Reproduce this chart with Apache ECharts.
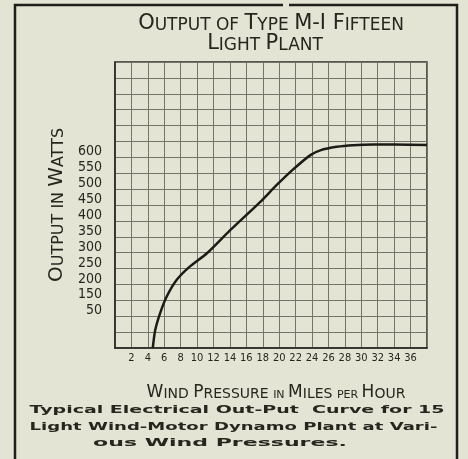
<!DOCTYPE html>
<html>
<head>
<meta charset="utf-8">
<script src="https://cdn.jsdelivr.net/npm/echarts@6/dist/echarts.min.js"></script>
<style>
html, body { margin: 0; padding: 0; background: #e3e4d3; }
#chart { width: 468px; height: 459px; }
</style>
</head>
<body>
<div id="chart"></div>
<script>
// curve: wind pressure (mph) vs output (watts)
var windSpeed = [4.6, 4.9, 5.5, 6.3, 7.5, 9.1, 11.2, 14, 17.7, 19.7, 21.7, 23.8, 25, 27, 29, 31.5, 34, 38]
var outputWatts = [0, 57, 110, 162, 214, 256, 298, 370, 460, 513, 562, 607, 622, 633, 638, 640, 640, 639]

// tick labels as printed (the plate labels the 100 line "50")
var xTickLabels = [2, 4, 6, 8, 10, 12, 14, 16, 18, 20, 22, 24, 26, 28, 30, 32, 34, 36]
var yTickValues = [100, 150, 200, 250, 300, 350, 400, 450, 500, 550, 600]
var yTickText = ['50', '150', '200', '250', '300', '350', '400', '450', '500', '550', '600']

var ink = '#26261f'
var wide = '"DejaVu Sans"'
var condensed = '"DejaVu Sans Condensed", "Liberation Sans Narrow", "DejaVu Sans"'
var captionFont = 'bold 19px "DejaVu Sans"'

var chart = echarts.init(document.getElementById('chart'))
var option = {
  backgroundColor: '#e3e4d3',
  animation: false,
  grid: {
    left: 115,
    top: 62,
    right: 41,
    bottom: 111,
    show: true,
    borderColor: '#2a2a24',
    borderWidth: 1.5
  },
  xAxis: {
    type: 'value',
    min: 0,
    max: 38,
    interval: 2,
    name: '{b|W}{s|IND }{b|P}{s|RESSURE }{t|IN }{b|M}{s|ILES }{t|PER }{b|H}{s|OUR}',
    nameLocation: 'middle',
    nameGap: 36,
    nameTextStyle: {
      padding: [0, 0, 0, 10],
      rich: {
        b: { fontFamily: wide, fontSize: 17, color: ink, verticalAlign: 'bottom' },
        s: { fontFamily: wide, fontSize: 14, color: ink, verticalAlign: 'bottom' },
        t: { fontFamily: wide, fontSize: 11, color: ink, verticalAlign: 'bottom' }
      }
    },
    axisLine: { show: true, lineStyle: { color: '#2a2a24', width: 1.5 } },
    axisTick: { show: false },
    axisLabel: {
      margin: 5,
      fontFamily: condensed,
      fontSize: 11,
      color: ink,
      formatter: function (v) {
        return xTickLabels.indexOf(v) >= 0 ? String(v) : ''
      }
    },
    splitLine: { show: true, lineStyle: { color: '#74746a', width: 1 } }
  },
  yAxis: {
    type: 'value',
    min: 0,
    max: 900,
    interval: 50,
    name: '{b|O}{s|UTPUT IN }{b|W}{s|ATTS}',
    nameLocation: 'middle',
    nameRotate: 90,
    nameGap: 44,
    nameTextStyle: {
      rich: {
        b: { fontFamily: wide, fontSize: 20, color: ink, verticalAlign: 'bottom' },
        s: { fontFamily: wide, fontSize: 16, color: ink, verticalAlign: 'bottom' }
      }
    },
    axisLine: { show: true, lineStyle: { color: '#2a2a24', width: 1.5 } },
    axisTick: { show: false },
    axisLabel: {
      margin: 13,
      fontFamily: condensed,
      fontSize: 14,
      lineHeight: 11,
      verticalAlign: 'bottom',
      color: ink,
      formatter: function (v) {
        var i = yTickValues.indexOf(v)
        return i >= 0 ? yTickText[i] : ''
      }
    },
    splitLine: { show: true, lineStyle: { color: '#74746a', width: 1 } }
  },
  series: [
    {
      type: 'line',
      data: windSpeed.map(function (x, i) { return [x, outputWatts[i]] }),
      smooth: 0.25,
      showSymbol: false,
      lineStyle: { color: '#1c1c17', width: 2.5 }
    }
  ],
  graphic: [
    // outer frame of the plate
    { type: 'polyline', shape: { points: [[15, 459], [15, 5], [283, 5]] }, style: { stroke: '#1e1e1a', lineWidth: 2.5, fill: null } },
    { type: 'polyline', shape: { points: [[289, 5], [457, 5], [457, 459]] }, style: { stroke: '#1e1e1a', lineWidth: 2.5, fill: null } },
    {
      type: 'text',
      x: 271,
      y: 24,
      style: {
        text: '{b|O}{s|UTPUT OF }{b|T}{s|YPE }{b|M-I F}{s|IFTEEN}',
        align: 'center',
        verticalAlign: 'middle',
        rich: {
          b: { fontFamily: wide, fontSize: 21, fill: ink, verticalAlign: 'bottom' },
          s: { fontFamily: wide, fontSize: 17, fill: ink, verticalAlign: 'bottom' }
        }
      }
    },
    {
      type: 'text',
      x: 265,
      y: 44,
      style: {
        text: '{b|L}{s|IGHT }{b|P}{s|LANT}',
        align: 'center',
        verticalAlign: 'middle',
        rich: {
          b: { fontFamily: wide, fontSize: 21, fill: ink, verticalAlign: 'bottom' },
          s: { fontFamily: wide, fontSize: 17, fill: ink, verticalAlign: 'bottom' }
        }
      }
    },
    {
      type: 'text', x: 237, y: 410, scaleY: 0.58,
      style: { text: 'Typical Electrical Out-Put  Curve for 15', font: captionFont, fill: ink, align: 'center', verticalAlign: 'middle' }
    },
    {
      type: 'text', x: 233.5, y: 427, scaleX: 0.95, scaleY: 0.58,
      style: { text: 'Light Wind-Motor Dynamo Plant at Vari-', font: captionFont, fill: ink, align: 'center', verticalAlign: 'middle' }
    },
    {
      type: 'text', x: 220, y: 443, scaleX: 1.16, scaleY: 0.58,
      style: { text: 'ous Wind Pressures.', font: captionFont, fill: ink, align: 'center', verticalAlign: 'middle' }
    }
  ]
}
chart.setOption(option)
</script>
</body>
</html>
